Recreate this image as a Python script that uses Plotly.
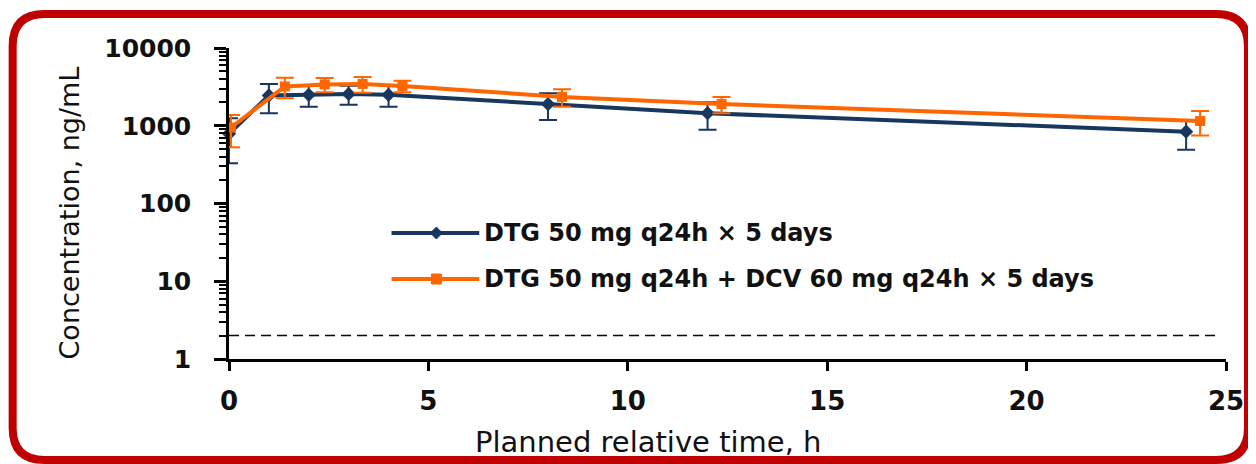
import plotly.graph_objects as go

# ---- data ----
time_dtg = [0, 1, 2, 3, 4, 8, 12, 24]
conc_dtg = [790, 2450, 2500, 2570, 2500, 1900, 1450, 840]
sd_dtg = [460, 1000, 750, 710, 750, 710, 560, 350]

time_dcv = [0.05, 1.4, 2.4, 3.35, 4.35, 8.35, 12.35, 24.35]
conc_dcv = [950, 3200, 3400, 3450, 3250, 2350, 1900, 1150]
sd_dcv = [420, 950, 700, 800, 550, 600, 450, 400]

lloq_x = [0, 24.85]
lloq_y = [2, 2]

x_ticks = [0, 5, 10, 15, 20, 25]
y_ticks = [1, 10, 100, 1000, 10000]
y_ticktext = ["1", "10", "100", "1000", "10000"]

name_dtg = "DTG 50 mg q24h × 5 days"
name_dcv = "DTG 50 mg q24h + DCV 60 mg q24h × 5 days"

BLUE = "#17375E"
ORANGE = "#FF6600"
RED = "#C00000"

# the page has an 8px body margin, so the figure is placed at (8, 8)
OFF = 8
W, H = 1256 - OFF, 464 - OFF
L, R, T, B = 229 - OFF, 27, 48 - OFF, 105
PW, PH = W - L - R, H - T - B


def px(x):
    return (x - OFF - L) / PW


def py(y):
    return (H - B - (y - OFF)) / PH


fig = go.Figure()

fig.add_trace(go.Scatter(
    x=lloq_x, y=lloq_y, mode="lines",
    line=dict(color="black", width=1.5, dash="10px,6px"),
    showlegend=False, hoverinfo="skip"))

fig.add_trace(go.Scatter(
    x=time_dtg, y=conc_dtg, name=name_dtg, mode="lines+markers",
    line=dict(color=BLUE, width=4),
    marker=dict(symbol="diamond", size=11, color=BLUE),
    error_y=dict(type="data", array=sd_dtg, color=BLUE, thickness=2, width=9),
    cliponaxis=False, showlegend=False))

fig.add_trace(go.Scatter(
    x=time_dcv, y=conc_dcv, name=name_dcv, mode="lines+markers",
    line=dict(color=ORANGE, width=4),
    marker=dict(symbol="square", size=10, color=ORANGE),
    error_y=dict(type="data", array=sd_dcv, color=ORANGE, thickness=2, width=9),
    cliponaxis=False, showlegend=False))

minor_vals = [m * 10 ** e for e in range(0, 4) for m in range(2, 10)]

fig.update_xaxes(
    range=[0, 25], tickmode="array", tickvals=x_ticks,
    showline=True, linecolor="black", linewidth=2.5,
    ticks="outside", ticklen=9, tickwidth=2.5, tickcolor="black",
    tickfont=dict(family="DejaVu Sans", size=26, color="#111", weight="bold"),
    ticklabelstandoff=8,
    showgrid=False, zeroline=False)

fig.update_yaxes(
    type="log", range=[0, 4], tickmode="array", tickvals=y_ticks, ticktext=y_ticktext,
    showline=True, linecolor="black", linewidth=2.5,
    ticks="outside", ticklen=12, tickwidth=2.5, tickcolor="black",
    minor=dict(tickmode="array", tickvals=minor_vals, ticks="outside",
               ticklen=7, tickwidth=1.5, tickcolor="black", showgrid=False),
    tickfont=dict(family="DejaVu Sans", size=25, color="#111", weight="bold"),
    ticklabelstandoff=18,
    showgrid=False, zeroline=False)

# rounded red frame (page pixel coordinates)
x0, x1, y0, y1, r = 12, 1251, 14, 460, 32
rx, ry = r / PW, r / PH
X0, X1, Y0, Y1 = px(x0), px(x1), py(y0), py(y1)
path = (f"M {X0+rx} {Y0} L {X1-rx} {Y0} Q {X1} {Y0} {X1} {Y0-ry} "
        f"L {X1} {Y1+ry} Q {X1} {Y1} {X1-rx} {Y1} "
        f"L {X0+rx} {Y1} Q {X0} {Y1} {X0} {Y1+ry} "
        f"L {X0} {Y0-ry} Q {X0} {Y0} {X0+rx} {Y0} Z")
shapes = [dict(type="path", xref="paper", yref="paper", path=path,
               line=dict(color=RED, width=8), layer="above")]

# legend samples
for yy, col, sym in [(233, BLUE, "diamond"), (279, ORANGE, "square")]:
    shapes.append(dict(type="line", xref="paper", yref="paper",
                       x0=px(392), x1=px(480), y0=py(yy), y1=py(yy),
                       line=dict(color=col, width=4)))
    if sym == "diamond":
        d = 6
        p = (f"M {px(437)} {py(yy-d)} L {px(437+d)} {py(yy)} L {px(437)} {py(yy+d)} "
             f"L {px(437-d)} {py(yy)} Z")
    else:
        d = 5
        p = (f"M {px(437-d)} {py(yy-d)} L {px(437+d)} {py(yy-d)} L {px(437+d)} {py(yy+d)} "
             f"L {px(437-d)} {py(yy+d)} Z")
    shapes.append(dict(type="path", xref="paper", yref="paper", path=p,
                       fillcolor=col, line=dict(color=col, width=1)))

annotations = [
    dict(text=name_dtg, xref="paper", yref="paper", x=px(483), y=py(233),
         xanchor="left", yanchor="middle", showarrow=False,
         font=dict(family="DejaVu Sans", size=24, color="#111", weight="bold")),
    dict(text=name_dcv, xref="paper", yref="paper", x=px(483), y=py(279),
         xanchor="left", yanchor="middle", showarrow=False,
         font=dict(family="DejaVu Sans", size=24, color="#111", weight="bold")),
    dict(text="Concentration, ng/mL", xref="paper", yref="paper", x=px(69), y=py(213),
         xanchor="center", yanchor="middle", textangle=-90, showarrow=False,
         font=dict(family="DejaVu Sans", size=27, color="#111")),
    dict(text="Planned relative time, h", xref="paper", yref="paper", x=px(650), y=py(442),
         xanchor="center", yanchor="middle", showarrow=False,
         font=dict(family="DejaVu Sans", size=29, color="#111")),
]

fig.update_layout(
    width=W, height=H, autosize=False,
    margin=dict(l=L, r=R, t=T, b=B),
    paper_bgcolor="white", plot_bgcolor="white",
    shapes=shapes, annotations=annotations,
    showlegend=False,
)

fig.write_html("out.html")
